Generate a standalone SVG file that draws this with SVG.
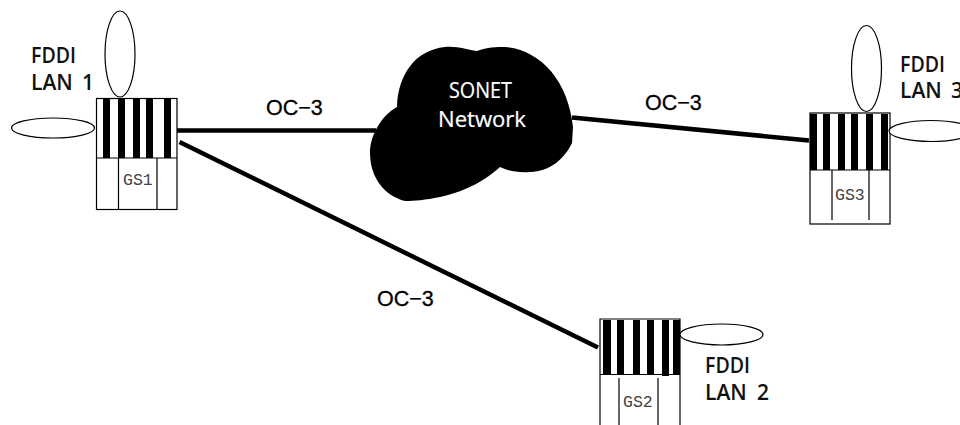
<svg xmlns="http://www.w3.org/2000/svg" width="960" height="425" viewBox="0 0 960 425">
<style>
.b{fill:#fff;stroke:#000;stroke-width:1.2}
.l{fill:none;stroke:#000;stroke-width:1.2}
.s{fill:#000}
.c{fill:none;stroke:#000;stroke-width:4.500}
.t{font-family:"Open Sans",sans-serif;font-size:21px;font-weight:600;fill:#111}
.o{font-family:"Liberation Sans",Arial,sans-serif;font-size:21.500px;fill:#000;stroke:#000;stroke-width:.3}
.g{font-family:"Liberation Mono",monospace;font-size:16.500px;fill:#444}
.w{font-family:"Open Sans",sans-serif;font-size:21px;font-weight:400;fill:#fff;stroke:#fff;stroke-width:.2}
</style>
<rect width="960" height="425" fill="#fff"/>
<g id="connectors">
<path class="c" d="M177 130.500H376"/>
<path class="c" d="M179.500 142L598 347.500"/>
<path class="c" d="M572 117.500L809 140.500"/>
</g>
<g id="sonet">
<path class="s" d="M397 107C398 75 415 50 445 47C458 46 468 50 477 51C487 47 497 47 505 47C540 50 568 80 573 127L572 143C565 158 550 172 530 172C518 173 508 171 500 167C485 180 470 190 440 197C425 200 415 201 405 201C385 196 370 178 370 153C370 135 382 115 397 107Z"/>
<text class="w" x="449" y="98" textLength="63" lengthAdjust="spacingAndGlyphs">SONET</text>
<text class="w" x="438" y="127" textLength="88" lengthAdjust="spacingAndGlyphs">Network</text>
</g>
<g id="gs1">
<rect class="b" x="96.500" y="98.500" width="80.500" height="111"/>
<path class="s" d="M103 99h7v59h-7zM118 99h7v59h-7zM133 99h7v59h-7zM146 99h7v59h-7zM164 99h7v59h-7z"/>
<path class="l" d="M96.500 158H177M118.500 158V209M157 158V209"/>
<text class="g" x="123" y="185">GS1</text>
<ellipse class="b" cx="120" cy="54" rx="15" ry="43"/>
<ellipse class="b" cx="53" cy="128" rx="41.500" ry="10"/>
<text class="t" x="31" y="63" textLength="45" lengthAdjust="spacingAndGlyphs">FDDI</text>
<text class="t" x="31" y="90">LAN <tspan x="82">1</tspan></text>
</g>
<g id="gs3">
<rect class="b" x="810" y="113" width="80" height="111"/>
<path class="s" d="M810 114h7v56h-7zM823 114h7v56h-7zM838 114h7v56h-7zM851 114h7v56h-7zM866 114h7v56h-7zM881 114h7v56h-7z"/>
<path class="l" d="M810 170H890M832 170V220M869 170V220"/>
<text class="g" x="835" y="200">GS3</text>
<ellipse class="b" cx="866.500" cy="68.500" rx="15" ry="43"/>
<ellipse class="b" cx="931" cy="131" rx="42" ry="10.500"/>
<text class="t" x="900" y="72" textLength="45" lengthAdjust="spacingAndGlyphs">FDDI</text>
<text class="t" x="900" y="98">LAN <tspan x="951">3</tspan></text>
</g>
<g id="gs2">
<path class="b" d="M600 425V319H680V425"/>
<path class="s" d="M603 320h8v54h-8zM617 320h7v54h-7zM633 320h7v54h-7zM647 320h7v54h-7zM662 320h7v56h-7zM673 320h7v54h-7z"/>
<path class="l" d="M600 374.500H680M619 378V425M658 378V425"/>
<text class="g" x="623" y="407">GS2</text>
<ellipse class="b" cx="721.500" cy="334.500" rx="41.500" ry="10.500"/>
<text class="t" x="705" y="373" textLength="45" lengthAdjust="spacingAndGlyphs">FDDI</text>
<text class="t" x="705" y="400">LAN <tspan x="757">2</tspan></text>
</g>
<g id="labels">
<text class="o" x="266" y="115">OC−3</text>
<text class="o" x="645" y="110">OC−3</text>
<text class="o" x="377" y="306">OC−3</text>
</g>
</svg>
